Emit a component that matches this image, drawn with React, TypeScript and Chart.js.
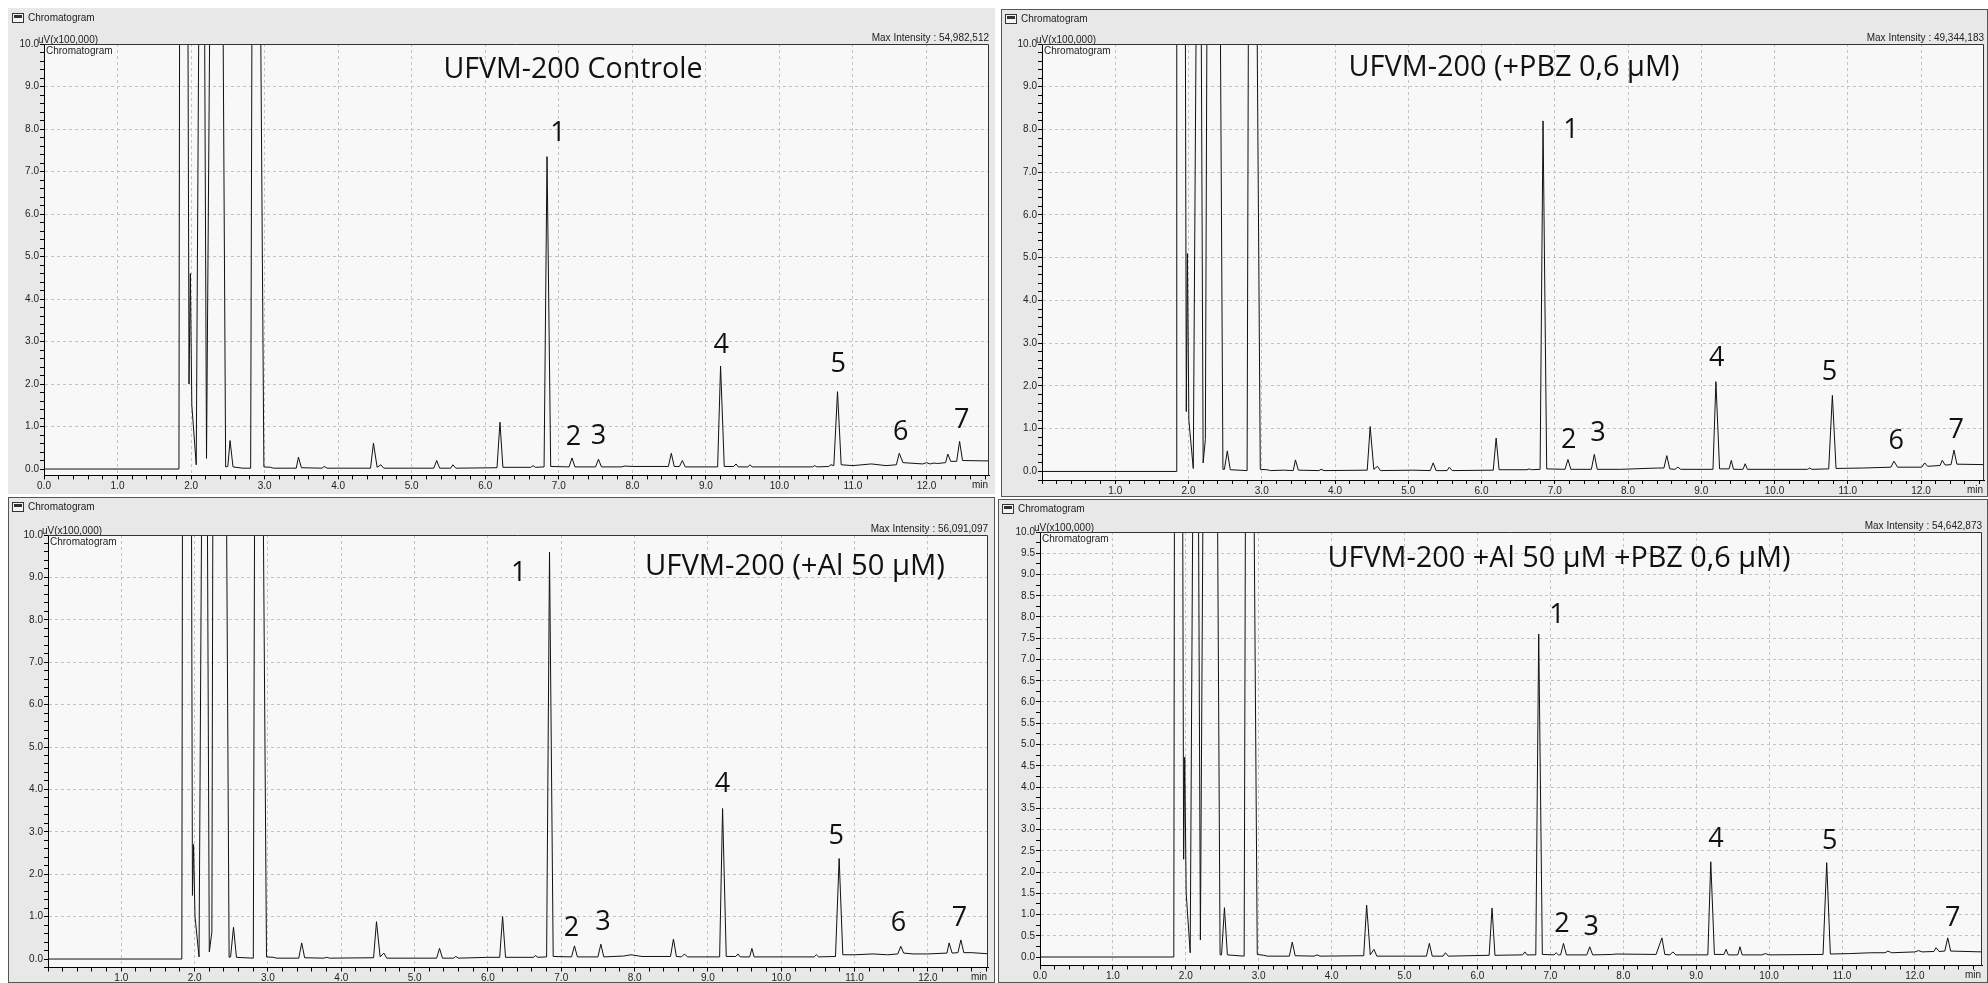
import React, { useEffect, useRef } from "react";
import { Chart, registerables } from "chart.js";

Chart.register(...registerables);
Chart.defaults.font.family = '"Liberation Sans", Arial, sans-serif';
Chart.defaults.font.size = 10;
Chart.defaults.color = "#222";

// ---------------- DATA ----------------
const controleTime = [0,1.835,1.845,1.955,1.972,1.99,2.01,2.07,2.11,2.18,2.21,2.26,2.43,2.47,2.5,2.53,2.57,2.7,2.81,2.83,2.94,2.99,3.08,3.12,3.43,3.46,3.5,3.78,3.81,3.85,4.44,4.48,4.53,4.58,4.62,5.3,5.34,5.38,5.53,5.56,5.6,6.16,6.2,6.24,6.62,6.65,6.68,6.8,6.84,6.89,7.14,7.18,7.22,7.5,7.54,7.58,7.85,7.9,8.0,8.49,8.53,8.57,8.64,8.68,8.72,9.16,9.2,9.25,9.38,9.41,9.44,9.57,9.6,9.63,10.45,10.48,10.51,10.67,10.7,10.74,10.79,10.84,11.0,11.25,11.45,11.59,11.63,11.68,11.95,12.0,12.05,12.1,12.15,12.26,12.29,12.33,12.41,12.45,12.49,12.85];
const controleSignal = [0,0,12,12,2.0,4.6,1.5,0.1,12,12,0.25,12,12,0.05,0.06,0.67,0.05,0.02,0.02,12,12,0.05,0.04,0.02,0.02,0.28,0.03,0.02,0.06,0.02,0.02,0.61,0.04,0.1,0.02,0.02,0.2,0.02,0.02,0.1,0.02,0.03,1.1,0.04,0.04,0.08,0.04,0.05,7.35,0.06,0.05,0.26,0.05,0.05,0.23,0.05,0.05,0.07,0.06,0.06,0.37,0.06,0.06,0.2,0.05,0.05,2.42,0.06,0.06,0.12,0.05,0.05,0.1,0.05,0.05,0.08,0.05,0.06,0.1,0.08,1.82,0.1,0.08,0.12,0.08,0.1,0.37,0.15,0.12,0.15,0.12,0.14,0.13,0.15,0.35,0.18,0.18,0.65,0.2,0.19];

const pbzTime = [0,1.83,1.84,1.955,1.97,1.985,2.005,2.065,2.11,2.17,2.2,2.23,2.255,2.43,2.47,2.49,2.53,2.57,2.8,2.82,2.93,2.98,3.07,3.12,3.3,3.43,3.46,3.5,3.78,3.81,3.85,4.44,4.48,4.53,4.58,4.62,5.06,5.3,5.34,5.38,5.53,5.56,5.6,6.16,6.2,6.24,6.62,6.65,6.68,6.8,6.84,6.89,7.14,7.18,7.22,7.5,7.54,7.58,7.9,8.4,8.49,8.53,8.57,8.64,8.68,8.72,9.16,9.2,9.25,9.38,9.41,9.44,9.57,9.6,9.63,10.45,10.48,10.51,10.74,10.79,10.84,11.2,11.4,11.59,11.63,11.68,12.01,12.05,12.09,12.26,12.29,12.33,12.41,12.45,12.49,12.86];
const pbzSignal = [0,0,12,12,1.4,5.1,1.2,0.07,12,12,0.2,0.75,12,12,0.05,0.05,0.48,0.04,0.02,12,12,0.05,0.04,0.02,0.03,0.02,0.27,0.03,0.02,0.05,0.02,0.03,1.05,0.05,0.12,0.02,0.03,0.02,0.2,0.02,0.02,0.1,0.02,0.03,0.78,0.04,0.04,0.06,0.04,0.05,8.2,0.06,0.05,0.28,0.05,0.05,0.4,0.05,0.05,0.08,0.08,0.37,0.06,0.05,0.1,0.05,0.05,2.1,0.06,0.06,0.26,0.05,0.05,0.18,0.05,0.05,0.08,0.05,0.06,1.78,0.07,0.08,0.09,0.1,0.24,0.1,0.1,0.2,0.12,0.14,0.26,0.15,0.16,0.5,0.17,0.16];

const alTime = [0,1.825,1.835,1.955,1.97,1.985,2.005,2.06,2.1,2.17,2.2,2.235,2.25,2.43,2.47,2.49,2.53,2.57,2.8,2.82,2.93,2.98,3.07,3.12,3.42,3.46,3.5,3.76,3.8,3.84,4.44,4.48,4.53,4.58,4.62,5.3,5.34,5.38,5.53,5.56,5.6,6.0,6.16,6.2,6.24,6.62,6.65,6.68,6.8,6.84,6.89,7.14,7.18,7.22,7.5,7.54,7.58,7.85,7.95,8.1,8.49,8.53,8.57,8.64,8.68,8.72,9.16,9.2,9.25,9.38,9.41,9.44,9.57,9.6,9.63,10.45,10.48,10.51,10.74,10.79,10.84,11.0,11.25,11.45,11.59,11.63,11.67,11.8,12.0,12.26,12.29,12.33,12.41,12.45,12.49,12.6,12.85];
const alSignal = [0,0,12,12,1.5,2.7,1.0,0.05,12,12,0.17,0.64,12,12,0.04,0.05,0.75,0.04,0.02,12,12,0.05,0.04,0.02,0.02,0.38,0.03,0.02,0.04,0.02,0.03,0.88,0.05,0.14,0.02,0.02,0.25,0.02,0.02,0.06,0.02,0.04,0.04,1.0,0.04,0.04,0.08,0.04,0.05,9.6,0.06,0.05,0.31,0.05,0.05,0.35,0.05,0.07,0.1,0.06,0.06,0.47,0.06,0.05,0.12,0.05,0.05,3.55,0.06,0.06,0.12,0.05,0.05,0.25,0.05,0.05,0.1,0.05,0.06,2.37,0.1,0.1,0.12,0.1,0.12,0.3,0.14,0.12,0.12,0.14,0.38,0.14,0.15,0.45,0.15,0.15,0.12];

const alPbzTime = [0,1.835,1.845,1.955,1.97,1.985,2.005,2.06,2.1,2.17,2.2,2.24,2.43,2.47,2.49,2.53,2.57,2.8,2.82,2.93,2.98,3.07,3.12,3.42,3.46,3.5,3.76,3.8,3.84,4.44,4.48,4.53,4.58,4.62,5.3,5.34,5.38,5.53,5.56,5.6,6.16,6.2,6.24,6.62,6.65,6.68,6.8,6.84,6.89,7.05,7.08,7.11,7.14,7.18,7.22,7.5,7.54,7.58,7.85,7.9,8.45,8.53,8.57,8.64,8.68,8.72,9.16,9.2,9.25,9.38,9.41,9.44,9.57,9.6,9.63,9.9,9.95,10.0,10.74,10.79,10.84,11.1,11.4,11.59,11.63,11.68,12.0,12.05,12.1,12.26,12.29,12.33,12.41,12.45,12.49,12.92];
const alPbzSignal = [0,0,12,12,2.3,4.7,1.5,0.1,12,12,0.4,12,12,0.05,0.05,1.16,0.05,0.02,12,12,0.06,0.04,0.02,0.02,0.35,0.03,0.02,0.05,0.02,0.03,1.22,0.05,0.18,0.02,0.02,0.32,0.02,0.02,0.1,0.02,0.04,1.15,0.04,0.05,0.12,0.05,0.05,7.6,0.06,0.05,0.1,0.05,0.05,0.32,0.05,0.05,0.24,0.05,0.06,0.07,0.06,0.45,0.06,0.05,0.12,0.05,0.05,2.24,0.06,0.06,0.18,0.05,0.05,0.24,0.05,0.05,0.08,0.05,0.06,2.22,0.07,0.08,0.1,0.1,0.14,0.1,0.12,0.15,0.12,0.13,0.22,0.13,0.14,0.45,0.14,0.12];

const peakNames = ["1", "2", "3", "4", "5", "6", "7"];
const controleLabelTime = [6.99, 7.2, 7.54, 9.21, 10.8, 11.65, 12.48];
const controleLabelLevel = [7.9, 0.75, 0.78, 2.92, 2.47, 0.87, 1.15];
const pbzLabelTime = [7.22, 7.19, 7.59, 9.21, 10.75, 11.66, 12.48];
const pbzLabelLevel = [7.97, 0.72, 0.89, 2.64, 2.31, 0.7, 0.96];
const alLabelTime = [6.42, 7.14, 7.57, 9.2, 10.75, 11.6, 12.43];
const alLabelLevel = [9.1, 0.73, 0.87, 4.13, 2.9, 0.85, 0.97];
const alPbzLabelNames = ["1", "2", "3", "4", "5", "7"];
const alPbzLabelTime = [7.09, 7.16, 7.56, 9.27, 10.83, 12.52];
const alPbzLabelLevel = [8.05, 0.78, 0.71, 2.78, 2.73, 0.92];

const titles = [
  "UFVM-200 Controle",
  "UFVM-200 (+PBZ 0,6 µM)",
  "UFVM-200 (+Al 50 µM)",
  "UFVM-200 +Al 50 µM +PBZ 0,6 µM)",
];
const maxIntensities = ["54,982,512", "49,344,183", "56,091,097", "54,642,873"];

// ---------------- LAYOUT ----------------
const PANEL_BG = "#e8e8e8";
const PLOT_BG = "#f8f8f8";
const Y_AXIS_W = 34;
const X_AXIS_H = 22;
const SMALL_FONT = '10px "Liberation Sans", Arial, sans-serif';
const TITLE_FONT = '"Open Sans", "Noto Sans", sans-serif';

type PanelDef = {
  key: string;
  x: number; y: number; w: number; h: number;
  L: number; T: number; R: number; B: number;
  xMax: number; yMin: number; yStep: number; yMajor: number;
  showZeroX: boolean; border: boolean;
  time: number[]; signal: number[];
  labelNames: string[]; labelTime: number[]; labelLevel: number[];
  title: string; titleCx: number; titleCy: number; titleW: number;
  maxI: string;
};

const panels: PanelDef[] = [
  { key: "p1", x: 8, y: 8, w: 987, h: 486, L: 44, T: 44, R: 989, B: 475.4, xMax: 12.85, yMin: -0.15, yStep: 0.2, yMajor: 1, showZeroX: true, border: false,
    time: controleTime, signal: controleSignal, labelNames: peakNames, labelTime: controleLabelTime, labelLevel: controleLabelLevel,
    title: titles[0], titleCx: 573, titleCy: 70, titleW: 259, maxI: maxIntensities[0] },
  { key: "p2", x: 1001, y: 9, w: 987, h: 488, L: 1042, T: 44, R: 1984, B: 480, xMax: 12.86, yMin: -0.2, yStep: 0.2, yMajor: 1, showZeroX: false, border: true,
    time: pbzTime, signal: pbzSignal, labelNames: peakNames, labelTime: pbzLabelTime, labelLevel: pbzLabelLevel,
    title: titles[1], titleCx: 1514, titleCy: 68, titleW: 331, maxI: maxIntensities[1] },
  { key: "p3", x: 8, y: 497, w: 987, h: 486, L: 48, T: 535, R: 988, B: 967.5, xMax: 12.82, yMin: -0.2, yStep: 0.2, yMajor: 1, showZeroX: false, border: true,
    time: alTime, signal: alSignal, labelNames: peakNames, labelTime: alLabelTime, labelLevel: alLabelLevel,
    title: titles[2], titleCx: 795, titleCy: 567, titleW: 300, maxI: maxIntensities[2] },
  { key: "p4", x: 998, y: 499, w: 990, h: 484, L: 1040, T: 532, R: 1982, B: 965.5, xMax: 12.92, yMin: -0.2, yStep: 0.25, yMajor: 0.5, showZeroX: true, border: true,
    time: alPbzTime, signal: alPbzSignal, labelNames: alPbzLabelNames, labelTime: alPbzLabelTime, labelLevel: alPbzLabelLevel,
    title: titles[3], titleCx: 1559, titleCy: 559, titleW: 463, maxI: maxIntensities[3] },
];

const isMult = (v: number, m: number) => Math.abs(v / m - Math.round(v / m)) < 1e-6;
const fmt = (v: number) => (Math.abs(v) < 1e-6 ? 0 : v).toFixed(1);

function makePlugin(p: PanelDef) {
  return {
    id: "chrom_" + p.key,
    beforeDraw(chart: any) {
      const { ctx, chartArea: a } = chart;
      ctx.save();
      ctx.fillStyle = PANEL_BG;
      ctx.fillRect(0, 0, chart.width, chart.height);
      ctx.fillStyle = PLOT_BG;
      ctx.fillRect(a.left, a.top, a.right - a.left, a.bottom - a.top);
      // header icon
      ctx.fillStyle = "#f4f4f4";
      ctx.fillRect(4.5, 5.5, 11, 9);
      ctx.strokeStyle = "#333";
      ctx.lineWidth = 1;
      ctx.strokeRect(4.5, 5.5, 11, 9);
      ctx.fillStyle = "#333";
      ctx.fillRect(6, 7, 8, 3);
      ctx.fillStyle = "#222";
      ctx.font = SMALL_FONT;
      ctx.textBaseline = "middle";
      ctx.textAlign = "left";
      ctx.fillText("Chromatogram", 20, 10.5);
      if (p.border) {
        ctx.strokeStyle = "#555";
        ctx.strokeRect(0.5, 0.5, chart.width - 1, chart.height - 1);
      }
      ctx.restore();
    },
    afterDraw(chart: any) {
      const { ctx, chartArea: a, scales } = chart;
      ctx.save();
      // plot frame (top/right)
      ctx.strokeStyle = "#333";
      ctx.lineWidth = 1;
      ctx.beginPath();
      ctx.moveTo(a.left, Math.round(a.top) + 0.5);
      ctx.lineTo(Math.round(a.right) - 0.5, Math.round(a.top) + 0.5);
      ctx.lineTo(Math.round(a.right) - 0.5, a.bottom);
      ctx.stroke();
      ctx.fillStyle = "#222";
      ctx.font = SMALL_FONT;
      ctx.textBaseline = "alphabetic";
      ctx.textAlign = "left";
      ctx.fillText("uV(x100,000)", a.left - 6, a.top - 1);
      ctx.fillText("Chromatogram", a.left + 2, a.top + 10);
      ctx.textAlign = "right";
      ctx.fillText("Max Intensity : " + p.maxI, a.right, a.top - 3);
      // "min" axis unit
      ctx.textBaseline = "middle";
      ctx.fillText("min", a.right - 1, a.bottom + 10);
      // title
      ctx.fillStyle = "#111";
      ctx.textAlign = "center";
      ctx.textBaseline = "middle";
      ctx.font = `28px ${TITLE_FONT}`;
      const mw = ctx.measureText(p.title).width;
      const fs = (28 * p.titleW) / mw;
      ctx.font = `${fs.toFixed(2)}px ${TITLE_FONT}`;
      ctx.fillText(p.title, p.titleCx - p.x, p.titleCy - p.y);
      // peak numbers
      ctx.font = `27px ${TITLE_FONT}`;
      p.labelNames.forEach((n, i) => {
        const px = scales.x.getPixelForValue(p.labelTime[i]);
        const py = scales.y.getPixelForValue(p.labelLevel[i]);
        ctx.fillText(n, px, py);
      });
      ctx.restore();
    },
  };
}

function buildConfig(p: PanelDef): any {
  const data = p.time.map((t, i) => ({ x: t, y: p.signal[i] }));
  const px = p.x, py = p.y;
  return {
    type: "line",
    data: {
      datasets: [
        { data, borderColor: "#111", borderWidth: 1, pointRadius: 0, tension: 0, fill: false },
      ],
    },
    options: {
      animation: false,
      responsive: false,
      maintainAspectRatio: false,
      events: [],
      layout: {
        padding: {
          left: p.L - px - Y_AXIS_W,
          top: p.T - py,
          right: px + p.w - p.R,
          bottom: py + p.h - p.B - X_AXIS_H,
        },
      },
      plugins: { legend: { display: false }, tooltip: { enabled: false }, title: { display: false } },
      scales: {
        x: {
          type: "linear",
          min: 0,
          max: p.xMax,
          afterFit: (s: any) => { s.height = X_AXIS_H; },
          ticks: {
            stepSize: 0.2,
            maxTicksLimit: 1000,
            autoSkip: false,
            maxRotation: 0,
            minRotation: 0,
            includeBounds: false,
            padding: 1,
            callback: (v: number) => (isMult(v, 1) && (p.showZeroX || Math.abs(v) > 1e-6) ? fmt(v) : ""),
          },
          grid: {
            color: (c: any) => (c.tick && isMult(c.tick.value, 1) && c.tick.value > 1e-6 ? "#c4c4c4" : "rgba(0,0,0,0)"),
            tickColor: "#000",
            tickLength: 4,
            lineWidth: 1,
          },
          border: { display: true, color: "#000", width: 1, dash: [3, 3] },
        },
        y: {
          type: "linear",
          min: p.yMin,
          max: 10,
          afterFit: (s: any) => { s.width = Y_AXIS_W; },
          ticks: {
            stepSize: p.yStep,
            maxTicksLimit: 1000,
            autoSkip: false,
            includeBounds: false,
            padding: 1,
            callback: (v: number) => (isMult(v, p.yMajor) ? fmt(v) : ""),
          },
          grid: {
            color: (c: any) => (c.tick && isMult(c.tick.value, p.yMajor) && c.tick.value > 1e-6 && c.tick.value < 9.99 ? "#c4c4c4" : "rgba(0,0,0,0)"),
            tickColor: "#000",
            tickLength: 4,
            lineWidth: 1,
          },
          border: { display: true, color: "#000", width: 1, dash: [3, 3] },
        },
      },
    },
    plugins: [makePlugin(p)],
  };
}

function Panel({ p }: { p: PanelDef }) {
  const ref = useRef<HTMLCanvasElement>(null);
  useEffect(() => {
    if (!ref.current) return;
    const chart = new Chart(ref.current, buildConfig(p));
    return () => chart.destroy();
  }, []);
  return (
    <canvas
      ref={ref}
      width={p.w}
      height={p.h}
      style={{ position: "absolute", left: p.x, top: p.y, width: p.w, height: p.h, display: "block" }}
    />
  );
}

export default function App() {
  return (
    <div style={{ position: "fixed", left: 0, top: 0, width: 1988, height: 983, background: "#fff", overflow: "hidden" }}>
      {panels.map((p) => (
        <Panel key={p.key} p={p} />
      ))}
    </div>
  );
}
